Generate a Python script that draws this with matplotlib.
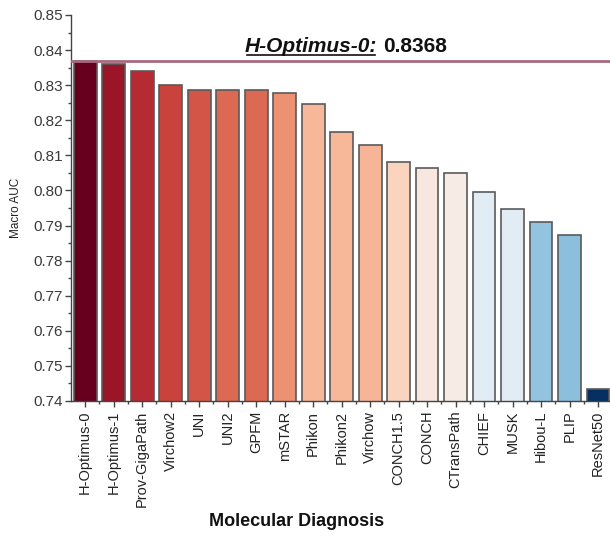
import matplotlib
matplotlib.use("Agg")
import matplotlib.pyplot as plt
from matplotlib.ticker import MultipleLocator, FixedLocator
from matplotlib.lines import Line2D

models = ["H-Optimus-0", "H-Optimus-1", "Prov-GigaPath", "Virchow2", "UNI", "UNI2",
          "GPFM", "mSTAR", "Phikon", "Phikon2", "Virchow", "CONCH1.5", "CONCH",
          "CTransPath", "CHIEF", "MUSK", "Hibou-L", "PLIP", "ResNet50"]
auc = [0.8368, 0.8360, 0.8340, 0.8300, 0.8286, 0.8285, 0.8285, 0.8277, 0.8246,
       0.8166, 0.8129, 0.8080, 0.8063, 0.8051, 0.7997, 0.7946, 0.7909, 0.7874, 0.7434]
bar_colors = ["#67001f", "#9b1529", "#b52a33", "#c9423c", "#d25548", "#dc6952",
              "#dc6952", "#ec9272", "#f6b898", "#f6b898", "#f5b596", "#fbd4bf",
              "#f7e7df", "#f7ebe5", "#e2ecf4", "#e2ecf4", "#92c4df", "#8cbfdc", "#053061"]
best_label = "H-Optimus-0:"
best_value = 0.8368

plt.rcParams['font.family'] = ['Liberation Sans', 'DejaVu Sans']

fig = plt.figure(figsize=(6.10, 5.41), dpi=100)
ax = fig.add_axes([71/610, 1 - 401/541, 1 - 71/610, (401 - 15)/541])

x = list(range(len(models)))
ax.bar(x, auc, width=0.8, color=bar_colors, edgecolor="#5a5a5a", linewidth=1.2,
       bottom=0, zorder=2)
ax.set_ylim(0.74, 0.85)
ax.set_xlim(-0.5, 18.42)

ax.axhline(best_value, color="#a8697e", linewidth=2.0, zorder=3)

ax.spines['top'].set_visible(False)
ax.spines['right'].set_visible(False)
for s in ['left', 'bottom']:
    ax.spines[s].set_color("#444444")
    ax.spines[s].set_linewidth(1.0)

ax.yaxis.set_major_locator(MultipleLocator(0.01))
ax.yaxis.set_minor_locator(MultipleLocator(0.005))
ax.set_yticklabels([f"{v:.2f}" for v in ax.get_yticks()])
ax.set_xticks(x)
ax.set_xticklabels(models, rotation=90, fontsize=10.5, color="#222222")
ax.xaxis.set_minor_locator(FixedLocator([i + 0.5 for i in x]))
ax.tick_params(axis='both', which='major', direction='out', length=4, width=1, color="#444444")
ax.tick_params(axis='both', which='minor', direction='out', length=2, width=1, color="#444444")
ax.tick_params(axis='y', labelsize=11, labelcolor="#3a3a3a", pad=2)
ax.tick_params(axis='x', pad=3)

ax.set_ylabel("Macro AUC", fontsize=8.5, color="#222222")
ax.yaxis.set_label_coords(-0.09, 0.5)
ax.set_xlabel("Molecular Diagnosis", fontsize=13, fontweight='bold', color="#111111")
ax.xaxis.set_label_coords((297 - 71) / 539, (401 - 521) / 386)
ax.xaxis.label.set_va('center')

t1 = fig.text(245/610, 1 - 52/541, best_label, fontsize=15, fontweight='bold',
              fontstyle='italic', color="#111111", ha='left', va='baseline')
fig.canvas.draw()
r = fig.canvas.get_renderer()
bb = t1.get_window_extent(renderer=r)
inv = fig.transFigure.inverted()
x0, y0 = inv.transform((bb.x0, bb.y0))
x1, y1 = inv.transform((bb.x1, bb.y1))
fig.text(x1 + 6/610, 1 - 52/541, f"{best_value:.4f}", fontsize=15, fontweight='bold',
         color="#111111", ha='left', va='baseline')
base_y = 1 - 54.5/541
fig.add_artist(Line2D([x0 + 2/610, x1 - 2/610], [base_y, base_y], color="#111111",
                      linewidth=1.2, transform=fig.transFigure))

fig.savefig("out.png", dpi=100)
